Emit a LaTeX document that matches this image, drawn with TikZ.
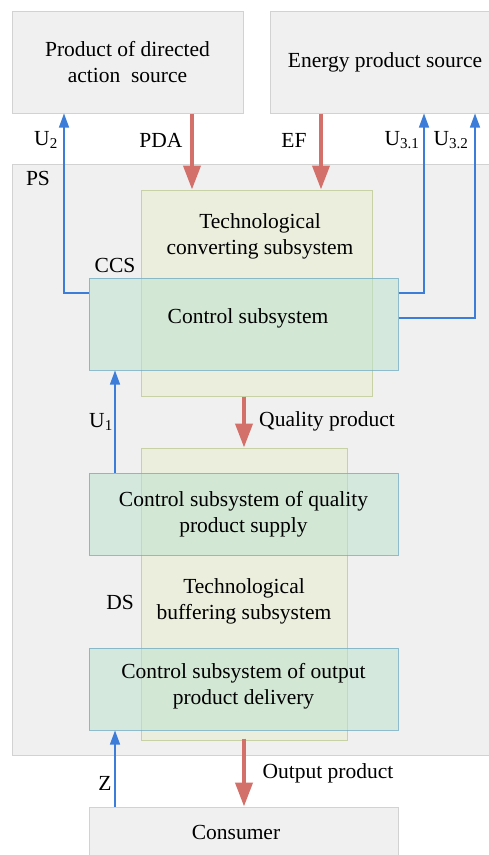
\documentclass[tikz,border=0pt]{standalone}
\usepackage{fontspec}
\setmainfont{Liberation Serif}
\usetikzlibrary{arrows.meta}
\definecolor{boxgray}{HTML}{F0F0F0}
\definecolor{boxline}{HTML}{D2D2D2}
\definecolor{techfill}{HTML}{EBEEDC}
\definecolor{techline}{HTML}{C6D2A6}
\definecolor{ctrlfill}{RGB}{190,226,206}
\definecolor{ctrlline}{RGB}{110,170,195}
\definecolor{redarrow}{HTML}{D4706A}
\definecolor{bluearrow}{HTML}{3B7DD8}
\tikzset{
  lbl/.style={font=\fontsize{21.5}{25.8}\selectfont, inner sep=0pt, align=center},
  graybox/.style={draw=boxline, fill=boxgray, line width=1pt, inner sep=0pt, lbl},
  techbox/.style={draw=techline, fill=techfill, line width=1pt, inner sep=0pt},
  ctrlbox/.style={draw=ctrlline, fill=ctrlfill, line width=1pt, fill opacity=0.55, draw opacity=0.75, text opacity=1, inner sep=0pt, lbl},
  redflow/.style={draw=redarrow, line width=4pt, -{Triangle[width=17pt,length=24pt]}},
  ctrlflow/.style={draw=bluearrow, line width=1.3pt, -{Triangle[width=10pt,length=14pt]}},
}
\begin{document}
\begin{tikzpicture}[x=1pt,y=-1pt]
\useasboundingbox (0,0) rectangle (489,855);
\fill[white] (0,0) rectangle (489,855);
% boxes
\node[graybox, minimum width=488pt, minimum height=591pt] (ps) at (256,459.5) {};
\node[graybox, minimum width=231pt, minimum height=102pt] (src1) at (127.5,62) {Product of directed\\action~~source};
\node[graybox, minimum width=240pt, minimum height=102pt] (src2) at (390,62) {};
\node[lbl] (src2t) at (385,62) {Energy product source};
\node[techbox, minimum width=231pt, minimum height=206pt] (tech1) at (256.5,293) {};
\node[lbl] (tech1t) at (260,236) {Technological\\converting subsystem};
\node[ctrlbox, minimum width=309pt, minimum height=92pt] (ctrl1) at (243.5,324) {};
\node[lbl] (ctrl1t) at (248,318) {Control subsystem};
\node[techbox, minimum width=206pt, minimum height=292pt] (tech2) at (244,594) {};
\node[lbl] (tech2t) at (244,601) {Technological\\buffering subsystem};
\node[ctrlbox, minimum width=309pt, minimum height=82pt] (ctrl2) at (243.5,514) {Control subsystem of quality\\product supply};
\node[ctrlbox, minimum width=309pt, minimum height=82pt] (ctrl3) at (243.5,689) {};
\node[lbl] (ctrl3t) at (243.5,686) {Control subsystem of output\\product delivery};
\node[graybox, minimum width=309pt, minimum height=63pt] (cons) at (243.5,838.5) {};
\node[lbl] (const) at (236,832) {Consumer};
% helper coordinates
\coordinate (xpda) at (192,0);
\coordinate (xef) at (321,0);
\coordinate (xu2) at (64,0);
\coordinate (xu31) at (424,0);
\coordinate (xu32) at (475,0);
\coordinate (xu1) at (115,0);
\coordinate (xq) at (244,0);
\coordinate (ya) at (0,293);
\coordinate (yb) at (0,318);
% red flows
\draw[redflow] (src1.south -| xpda) -- (tech1.north -| xpda);
\draw[redflow] (src2.south -| xef) -- (tech1.north -| xef);
\draw[redflow] (tech1.south -| xq) -- (tech2.north -| xq);
\draw[redflow] ([yshift=2pt]tech2.south -| xq) -- (cons.north -| xq);
% control flows
\draw[ctrlflow] (ctrl1.west |- ya) -| (src1.south -| xu2);
\draw[ctrlflow] (ctrl1.east |- ya) -| (src2.south -| xu31);
\draw[ctrlflow] (ctrl1.east |- yb) -| (src2.south -| xu32);
\draw[ctrlflow] (ctrl2.north -| xu1) -- (ctrl1.south -| xu1);
\draw[ctrlflow] (cons.north -| xu1) -- (ctrl3.south -| xu1);
% labels
\node[lbl] (lu2) at (46,140) {U\textsubscript{2}};
\node[lbl] (lpda) at (161,140) {PDA};
\node[lbl] (lef) at (294,140) {EF};
\node[lbl] (lu31) at (402,140) {U\textsubscript{3.1}};
\node[lbl] (lu32) at (451,140) {U\textsubscript{3.2}};
\node[lbl] (lps) at (38,178) {PS};
\node[lbl] (lccs) at (115,265) {CCS};
\node[lbl] (lu1) at (101,422) {U\textsubscript{1}};
\node[lbl] (lqp) at (327,421) {Quality product};
\node[lbl] (lds) at (120,602) {DS};
\node[lbl] (lz) at (105,783) {Z};
\node[lbl] (lop) at (328,773) {Output product};
\end{tikzpicture}
\end{document}
